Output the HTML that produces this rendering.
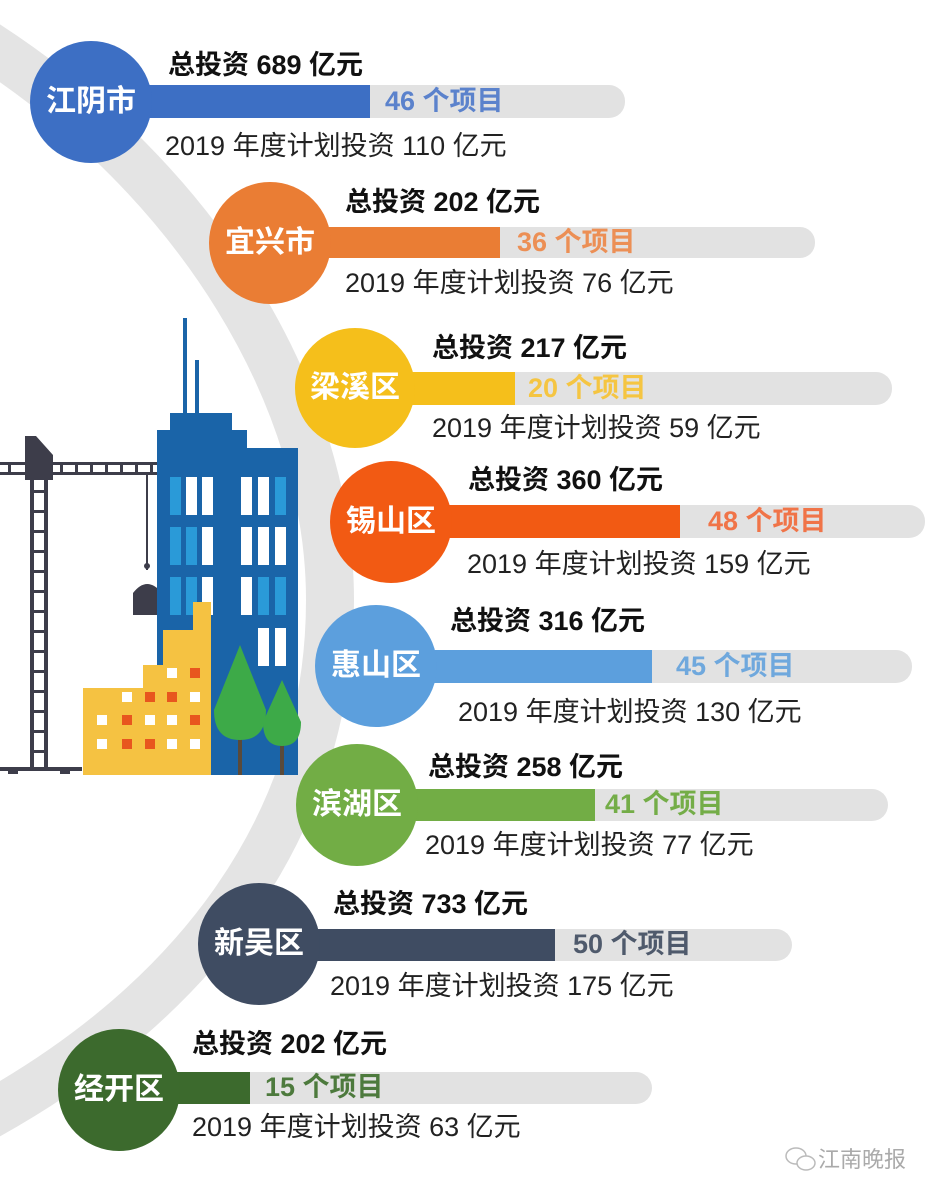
<!DOCTYPE html>
<html><head><meta charset="utf-8"><style>
html,body{margin:0;padding:0;background:#fff;}
#c{position:relative;width:940px;height:1200px;overflow:hidden;font-family:"Liberation Sans","Noto Sans CJK SC",sans-serif;}
.t{position:absolute;white-space:nowrap;line-height:1;}
.ti{font-size:27px;font-weight:bold;color:#111;}
.su{font-size:27px;color:#222;}
.cn{font-size:27px;font-weight:bold;}
.lb{font-size:30px;font-weight:bold;color:#fff;text-align:center;width:140px;}
</style></head><body><div id="c">
<svg width="940" height="1200" style="position:absolute;left:0;top:0">
<path d="M -20 40 C 200 180, 330 400, 330 600 C 330 820, 200 1000, -20 1120" fill="none" stroke="#e4e4e4" stroke-width="48"/>
<g fill="#3d3d4a">
<rect x="30" y="473" width="4" height="297"/><rect x="44" y="473" width="4" height="297"/>
<rect x="0" y="462" width="190" height="3"/><rect x="0" y="472" width="175" height="3"/>
<polygon points="175,462 190,462 175,475"/>
<polygon points="25,436 36,436 53,455 53,480 25,480"/>
<rect x="146" y="475" width="2" height="95"/>
<circle cx="147" cy="566" r="3"/>
<path d="M133 615 V593 Q147 575 162 593 V615 Z"/>
<rect x="0" y="767" width="82" height="4"/><rect x="8" y="771" width="10" height="3"/><rect x="60" y="771" width="10" height="3"/>
</g>
<g fill="#3d3d4a">
<rect x="30" y="490" width="18" height="3"/><rect x="30" y="510" width="18" height="3"/><rect x="30" y="530" width="18" height="3"/><rect x="30" y="550" width="18" height="3"/><rect x="30" y="570" width="18" height="3"/><rect x="30" y="590" width="18" height="3"/><rect x="30" y="610" width="18" height="3"/><rect x="30" y="630" width="18" height="3"/><rect x="30" y="650" width="18" height="3"/><rect x="30" y="670" width="18" height="3"/><rect x="30" y="690" width="18" height="3"/><rect x="30" y="710" width="18" height="3"/><rect x="30" y="730" width="18" height="3"/><rect x="30" y="750" width="18" height="3"/>
<rect x="60" y="462" width="3" height="13"/><rect x="75" y="462" width="3" height="13"/><rect x="90" y="462" width="3" height="13"/><rect x="105" y="462" width="3" height="13"/><rect x="120" y="462" width="3" height="13"/><rect x="135" y="462" width="3" height="13"/><rect x="150" y="462" width="3" height="13"/><rect x="165" y="462" width="3" height="13"/><rect x="8" y="462" width="3" height="13"/>
</g>
<g fill="#1a64a8">
<rect x="183" y="318" width="4" height="100"/><rect x="195" y="360" width="4" height="60"/>
<rect x="170" y="413" width="62" height="20"/>
<rect x="157" y="430" width="90" height="345"/>
<rect x="245" y="448" width="53" height="327"/>
</g>
<g fill="#2a9ad8">
<rect x="170" y="477" width="11" height="38"/><rect x="170" y="527" width="11" height="38"/><rect x="170" y="577" width="11" height="38"/>
<rect x="186" y="527" width="11" height="38"/><rect x="186" y="577" width="11" height="38"/>
<rect x="275" y="477" width="11" height="38"/><rect x="258" y="577" width="11" height="38"/><rect x="275" y="577" width="11" height="38"/>
</g>
<g fill="#fff">
<rect x="186" y="477" width="11" height="38"/><rect x="202" y="477" width="11" height="38"/><rect x="202" y="527" width="11" height="38"/><rect x="202" y="577" width="11" height="38"/>
<rect x="241" y="477" width="11" height="38"/><rect x="258" y="477" width="11" height="38"/>
<rect x="241" y="527" width="11" height="38"/><rect x="258" y="527" width="11" height="38"/><rect x="275" y="527" width="11" height="38"/>
<rect x="241" y="577" width="11" height="38"/>
<rect x="258" y="628" width="11" height="38"/><rect x="275" y="628" width="11" height="38"/>
</g>
<polygon points="83,775 83,688 143,688 143,665 163,665 163,630 193,630 193,602 211,602 211,775" fill="#f5c242"/>
<g fill="#fff"><rect x="167" y="668" width="10" height="10"/><rect x="122" y="692" width="10" height="10"/><rect x="190" y="692" width="10" height="10"/><rect x="97" y="715" width="10" height="10"/><rect x="145" y="715" width="10" height="10"/><rect x="167" y="715" width="10" height="10"/><rect x="97" y="739" width="10" height="10"/><rect x="167" y="739" width="10" height="10"/><rect x="190" y="739" width="10" height="10"/></g>
<g fill="#e8561e"><rect x="190" y="668" width="10" height="10"/><rect x="145" y="692" width="10" height="10"/><rect x="167" y="692" width="10" height="10"/><rect x="122" y="715" width="10" height="10"/><rect x="190" y="715" width="10" height="10"/><rect x="122" y="739" width="10" height="10"/><rect x="145" y="739" width="10" height="10"/></g>
<rect x="238" y="720" width="4" height="55" fill="#5a4a3a"/><rect x="280" y="730" width="4" height="45" fill="#5a4a3a"/>
<path d="M240 645 L266 710 Q266 740 240 740 Q214 740 214 710 Z" fill="#3daa48"/>
<path d="M282 680 L301 722 Q301 746 282 746 Q263 746 263 722 Z" fill="#3daa48"/>
<g>
<rect x="140" y="85" width="485" height="33" rx="16" fill="#e2e2e2"/><rect x="140" y="85" width="230" height="33" fill="#3d6fc4"/>
<rect x="260" y="227" width="555" height="31" rx="15" fill="#e2e2e2"/><rect x="260" y="227" width="240" height="31" fill="#ea7d34"/>
<rect x="350" y="372" width="542" height="33" rx="16" fill="#e2e2e2"/><rect x="350" y="372" width="165" height="33" fill="#f5bf1b"/>
<rect x="380" y="505" width="545" height="33" rx="16" fill="#e2e2e2"/><rect x="380" y="505" width="300" height="33" fill="#f25a13"/>
<rect x="370" y="650" width="542" height="33" rx="16" fill="#e2e2e2"/><rect x="370" y="650" width="282" height="33" fill="#5c9fdd"/>
<rect x="350" y="789" width="538" height="32" rx="16" fill="#e2e2e2"/><rect x="350" y="789" width="245" height="32" fill="#72ad45"/>
<rect x="250" y="929" width="542" height="32" rx="16" fill="#e2e2e2"/><rect x="250" y="929" width="305" height="32" fill="#3f4c62"/>
<rect x="110" y="1072" width="542" height="32" rx="16" fill="#e2e2e2"/><rect x="110" y="1072" width="140" height="32" fill="#3c6a2d"/>
</g>
<circle cx="91" cy="102" r="61" fill="#3d6fc4"/>
<circle cx="270" cy="243" r="61" fill="#ea7d34"/>
<circle cx="355" cy="388" r="60" fill="#f5bf1b"/>
<circle cx="391" cy="522" r="61" fill="#f25a13"/>
<circle cx="376" cy="666" r="61" fill="#5c9fdd"/>
<circle cx="357" cy="805" r="61" fill="#72ad45"/>
<circle cx="259" cy="944" r="61" fill="#3f4c62"/>
<circle cx="119" cy="1090" r="61" fill="#3c6a2d"/>
<g fill="none" stroke="#bbb" stroke-width="1.5"><ellipse cx="796" cy="1156" rx="10" ry="8"/><ellipse cx="806" cy="1163" rx="9" ry="7" fill="#fff"/></g>
</svg>
<div class="t lb" style="left:21px;top:87px">江阴市</div>
<div class="t lb" style="left:200px;top:228px">宜兴市</div>
<div class="t lb" style="left:285px;top:373px">梁溪区</div>
<div class="t lb" style="left:321px;top:507px">锡山区</div>
<div class="t lb" style="left:306px;top:651px">惠山区</div>
<div class="t lb" style="left:287px;top:790px">滨湖区</div>
<div class="t lb" style="left:189px;top:929px">新吴区</div>
<div class="t lb" style="left:49px;top:1075px">经开区</div>

<div class="t ti" style="left:168px;top:52px">总投资 689 亿元</div>
<div class="t ti" style="left:345px;top:189px">总投资 202 亿元</div>
<div class="t ti" style="left:432px;top:335px">总投资 217 亿元</div>
<div class="t ti" style="left:468px;top:467px">总投资 360 亿元</div>
<div class="t ti" style="left:450px;top:608px">总投资 316 亿元</div>
<div class="t ti" style="left:428px;top:754px">总投资 258 亿元</div>
<div class="t ti" style="left:333px;top:891px">总投资 733 亿元</div>
<div class="t ti" style="left:192px;top:1031px">总投资 202 亿元</div>

<div class="t cn" style="left:385px;top:88px;color:#5b82cc">46 个项目</div>
<div class="t cn" style="left:517px;top:229px;color:#ec8f55">36 个项目</div>
<div class="t cn" style="left:528px;top:375px;color:#f5c542">20 个项目</div>
<div class="t cn" style="left:708px;top:508px;color:#f07448">48 个项目</div>
<div class="t cn" style="left:676px;top:653px;color:#6fa8dd">45 个项目</div>
<div class="t cn" style="left:605px;top:791px;color:#74ad48">41 个项目</div>
<div class="t cn" style="left:573px;top:931px;color:#4f5a6c">50 个项目</div>
<div class="t cn" style="left:265px;top:1074px;color:#4d7a3d">15 个项目</div>

<div class="t su" style="left:165px;top:133px">2019 年度计划投资 110 亿元</div>
<div class="t su" style="left:345px;top:270px">2019 年度计划投资 76 亿元</div>
<div class="t su" style="left:432px;top:415px">2019 年度计划投资 59 亿元</div>
<div class="t su" style="left:467px;top:551px">2019 年度计划投资 159 亿元</div>
<div class="t su" style="left:458px;top:699px">2019 年度计划投资 130 亿元</div>
<div class="t su" style="left:425px;top:832px">2019 年度计划投资 77 亿元</div>
<div class="t su" style="left:330px;top:973px">2019 年度计划投资 175 亿元</div>
<div class="t su" style="left:192px;top:1114px">2019 年度计划投资 63 亿元</div>

<div class="t" style="left:818px;top:1149px;font-size:22px;color:#aaa">江南晚报</div>
</div></body></html>
